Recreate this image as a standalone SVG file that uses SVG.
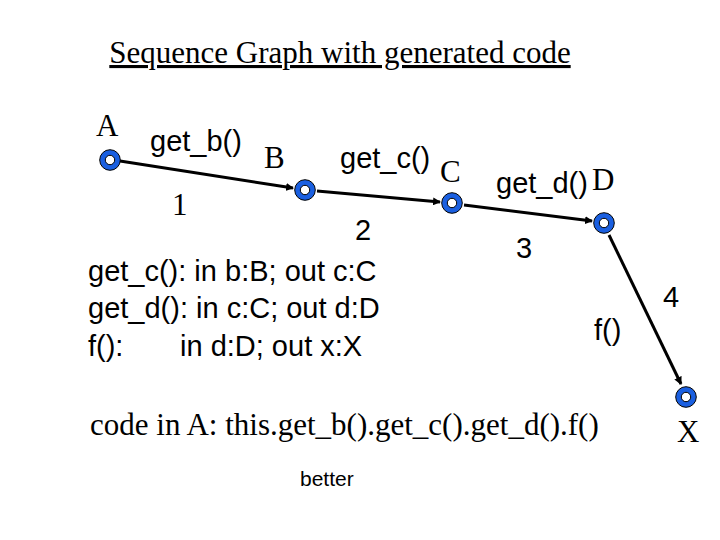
<svg xmlns="http://www.w3.org/2000/svg" width="720" height="540" viewBox="0 0 720 540">
<style>
.s{font-family:"Liberation Serif",serif;fill:#000}
.a{font-family:"Liberation Sans",sans-serif;fill:#000}
.n{fill:#fff;stroke:#1a5fe0;stroke-width:5.5}
.o{fill:none;stroke:#000;stroke-width:1}
.e{stroke:#000;stroke-width:3;fill:none;marker-end:url(#ar)}
</style>
<defs><marker id="ar" markerWidth="8" markerHeight="8" refX="7" refY="4" orient="auto" markerUnits="userSpaceOnUse"><path d="M0,0L8,4L0,8Z" fill="#000"/></marker></defs>
<rect width="720" height="540" fill="#fff"/>
<text class="s" x="340" y="63" font-size="31" text-anchor="middle" text-decoration="underline">Sequence Graph with generated code</text>
<g id="connectors">
<path class="e" d="M120,161L293,188"/>
<path class="e" d="M317,191L440,202"/>
<path class="e" d="M464,205L592,221"/>
<path class="e" d="M609,235L681,384"/>
</g>
<g id="A"><circle class="n" cx="110" cy="160" r="7.5"/><circle class="o" cx="110" cy="160" r="10.3"/><circle class="o" cx="110" cy="160" r="4.7"/><text class="s" x="96" y="136" font-size="31">A</text></g>
<g id="B"><circle class="n" cx="305" cy="190" r="7.5"/><circle class="o" cx="305" cy="190" r="10.3"/><circle class="o" cx="305" cy="190" r="4.7"/><text class="s" x="264" y="168" font-size="31">B</text></g>
<g id="C"><circle class="n" cx="452" cy="203" r="7.5"/><circle class="o" cx="452" cy="203" r="10.3"/><circle class="o" cx="452" cy="203" r="4.7"/><text class="s" x="440" y="182" font-size="31">C</text></g>
<g id="D"><circle class="n" cx="604" cy="223" r="7.5"/><circle class="o" cx="604" cy="223" r="10.3"/><circle class="o" cx="604" cy="223" r="4.7"/><text class="s" x="592" y="190" font-size="31">D</text></g>
<g id="X"><circle class="n" cx="686" cy="397" r="7.5"/><circle class="o" cx="686" cy="397" r="10.3"/><circle class="o" cx="686" cy="397" r="4.7"/><text class="s" x="677" y="442" font-size="31">X</text></g>
<text class="a" x="150" y="151" font-size="29">get_b()</text>
<text class="s" x="172" y="215" font-size="31">1</text>
<text class="a" x="340" y="168" font-size="29">get_c()</text>
<text class="a" x="355" y="240" font-size="29">2</text>
<text class="a" x="496" y="193" font-size="29">get_d()</text>
<text class="a" x="516" y="258" font-size="29">3</text>
<text class="a" x="663" y="307" font-size="29">4</text>
<text class="a" x="594" y="340" font-size="29">f()</text>
<text class="a" x="88" y="281" font-size="29">get_c(): in b:B; out c:C</text>
<text class="a" x="88" y="318" font-size="29">get_d(): in c:C; out d:D</text>
<text class="a" x="88" y="356" font-size="29">f():</text>
<text class="a" x="180" y="356" font-size="29">in d:D; out x:X</text>
<text class="s" x="90" y="435" font-size="31">code in A: this.get_b().get_c().get_d().f()</text>
<text class="a" x="300" y="486" font-size="21">better</text>
</svg>
